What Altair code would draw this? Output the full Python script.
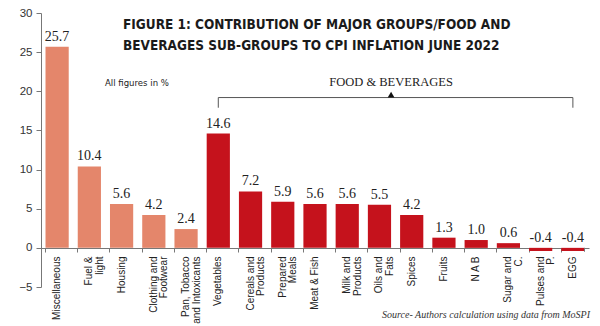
import altair as alt
import pandas as pd

categories = ["Miscellaneous", "Fuel &|light", "Housing", "Clothing and|Footwear",
              "Pan, Tobacco|and Intoxicants", "Vegetables", "Cereals and|Products",
              "Prepared|Meals", "Meat & Fish", "Milk and|Products", "Oils and|Fats",
              "Spices", "Fruits", "N A B", "Sugar and|C.", "Pulses and|P.", "EGG"]
values = [25.7, 10.4, 5.6, 4.2, 2.4, 14.6, 7.2, 5.9, 5.6, 5.6, 5.5, 4.2, 1.3, 1.0, 0.6, -0.4, -0.4]
groups = ["Major"] * 5 + ["Food"] * 12
y_ticks = [-5, 0, 5, 10, 15, 20, 25, 30]

df = pd.DataFrame({"cat": categories, "value": values, "group": groups})
df["labpos"] = df["value"].clip(lower=0)
df["label"] = df["value"].map(lambda v: f"{v:.1f}")

xscale = alt.Scale(domain=categories, paddingInner=0.28, paddingOuter=0.14)
yscale = alt.Scale(domain=[-5, 30], nice=False, zero=False)

xaxis = alt.Axis(labelExpr="split(datum.label, '|')", labelAngle=270,
                 labelAlign="right", labelBaseline="middle",
                 labelFont="Liberation Sans", labelFontSize=10,
                 labelColor="#222", labelLineHeight=10.5, labelPadding=4,
                 domainColor="#777", tickColor="#777", tickSize=4,
                 bandPosition=0, offset=-39, labelLimit=200,
                 labelOverlap=False, title=None)
yaxis = alt.Axis(values=y_ticks, grid=False, labelFont="Liberation Sans",
                 labelFontSize=11.5, labelColor="#333", domainColor="#777",
                 tickColor="#777", tickSize=5, labelPadding=4,
                 labelOverlap=False, labelFlush=False, title=None)

base = alt.Chart(df)

bars = base.mark_bar().encode(
    x=alt.X("cat:N", scale=xscale, sort=categories, axis=xaxis),
    y=alt.Y("value:Q", scale=yscale, axis=yaxis),
    color=alt.Color("group:N", scale=alt.Scale(domain=["Major", "Food"],
                                               range=["#E4866B", "#C5121C"]), legend=None),
)

labels = base.mark_text(font="Liberation Serif", fontSize=14, dy=-6, baseline="alphabetic",
                        color="#222").encode(
    x=alt.X("cat:N", scale=xscale, sort=categories, axis=xaxis),
    y=alt.Y("labpos:Q", scale=yscale, axis=yaxis),
    text="label:N",
)

brk = pd.DataFrame({"a": ["Vegetables"], "b": ["EGG"], "y": [19.2], "y2": [17.9],
                    "mid": ["Oils and|Fats"], "z": [0.0], "z2": [-0.5]})
bb = alt.Chart(brk)
hline = bb.mark_rule(color="#555", strokeWidth=1).encode(
    x=alt.X("a:N", scale=xscale, bandPosition=0.5, axis=xaxis), x2="b:N",
    y=alt.Y("y:Q", scale=yscale, axis=yaxis))
lt = bb.mark_rule(color="#555", strokeWidth=1).encode(
    x=alt.X("a:N", scale=xscale, bandPosition=0.5, axis=xaxis),
    y=alt.Y("y:Q", scale=yscale, axis=yaxis), y2="y2:Q")
rt = bb.mark_rule(color="#555", strokeWidth=1).encode(
    x=alt.X("b:N", scale=xscale, bandPosition=0.5, axis=xaxis),
    y=alt.Y("y:Q", scale=yscale, axis=yaxis), y2="y2:Q")
endtick = bb.mark_rule(color="#777", strokeWidth=1).encode(
    x=alt.X("b:N", scale=xscale, bandPosition=1.0, axis=xaxis),
    y=alt.Y("z:Q", scale=yscale, axis=yaxis), y2="z2:Q")
tri = bb.mark_point(shape="triangle-up", filled=True, color="#111", size=45, opacity=1).encode(
    x=alt.X("mid:N", scale=xscale, bandPosition=1.0, axis=xaxis),
    y=alt.Y("y:Q", scale=yscale, axis=yaxis), yOffset=alt.value(-3))
fb = bb.mark_text(text="FOOD & BEVERAGES", font="Liberation Serif", fontSize=12.5,
                  color="#222", baseline="alphabetic", dy=-12).encode(
    x=alt.X("mid:N", scale=xscale, bandPosition=1.0, axis=xaxis),
    y=alt.Y("y:Q", scale=yscale, axis=yaxis))

tfont = "DejaVu Sans Condensed"
title1 = alt.Chart(pd.DataFrame({"t": ["FIGURE 1: CONTRIBUTION OF MAJOR GROUPS/FOOD AND"]})).mark_text(
    font=tfont, fontWeight="bold", fontSize=13.5, align="left",
    baseline="alphabetic", color="#1a1a1a").encode(
    x=alt.value(82), y=alt.value(16), text="t:N")
title2 = alt.Chart(pd.DataFrame({"t": ["BEVERAGES SUB-GROUPS TO CPI INFLATION JUNE 2022"]})).mark_text(
    font=tfont, fontWeight="bold", fontSize=13.5, align="left",
    baseline="alphabetic", color="#1a1a1a").encode(
    x=alt.value(82), y=alt.value(37), text="t:N")
allfig = alt.Chart(pd.DataFrame({"t": ["All figures in %"]})).mark_text(
    font=tfont, fontSize=9.5, align="left", baseline="alphabetic",
    color="#222").encode(x=alt.value(64), y=alt.value(73), text="t:N")
source = alt.Chart(pd.DataFrame({"t": ["Source- Authors calculation using data from MoSPI"]})).mark_text(
    font="Liberation Serif", fontStyle="italic", fontSize=10, align="right",
    baseline="alphabetic", color="#333").encode(x=alt.value(549), y=alt.value(305), text="t:N")

chart = alt.layer(bars, labels, hline, lt, rt, endtick, tri, fb, title1, title2, allfig, source).properties(
    width=548, height=274,
    autosize=alt.AutoSizeParams(type="none"),
    padding={"left": 41, "top": 13, "right": 11, "bottom": 39},
    background="white",
).configure_view(stroke=None).configure_axis(labelOverlap=False)

chart.save("out.html", embed_options={"renderer": "svg", "actions": False})
